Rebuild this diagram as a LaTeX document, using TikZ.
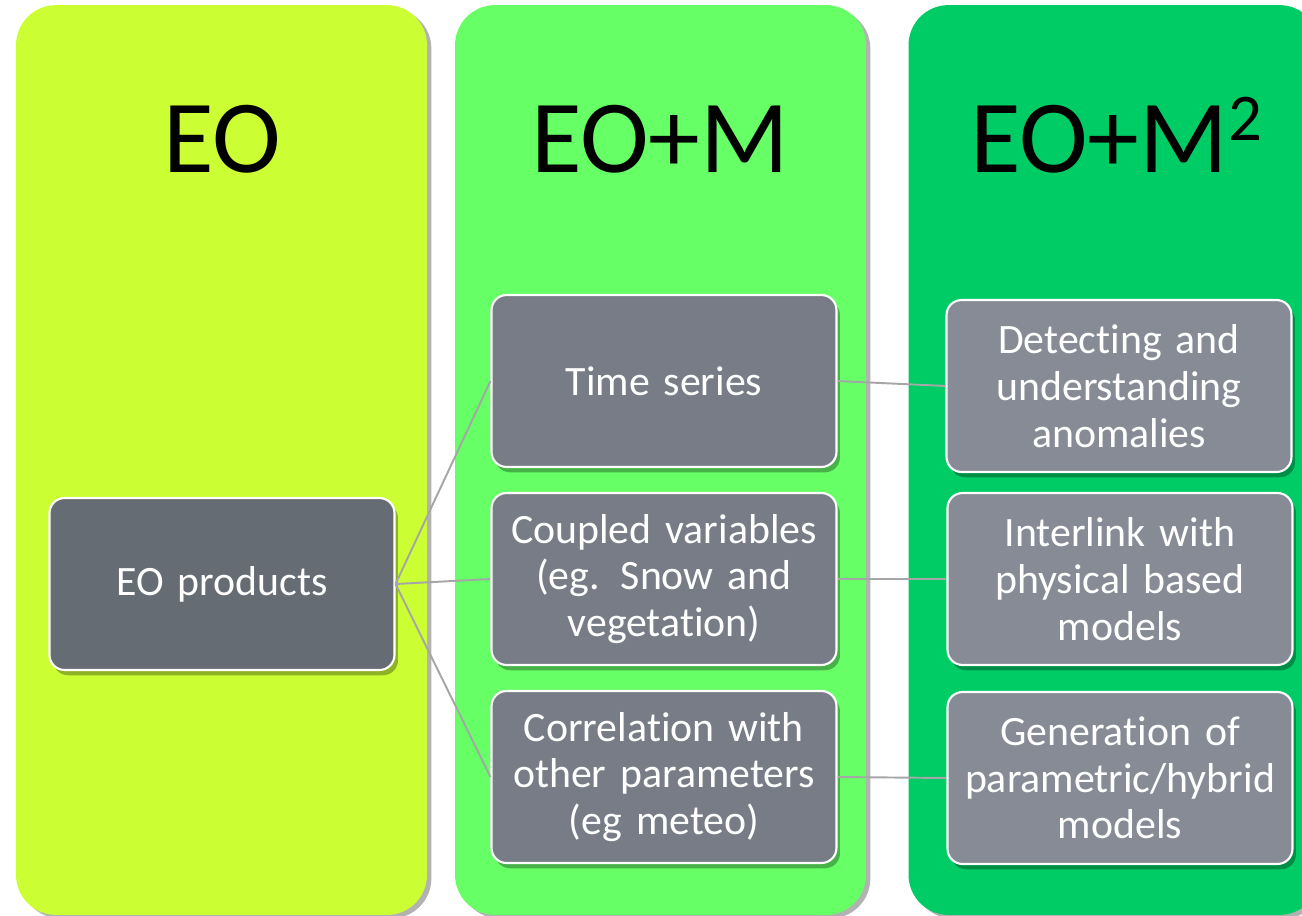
\documentclass[tikz,border=0pt]{standalone}
\usepackage{fontspec}
\setmainfont{Carlito}[Ligatures=NoCommon]
\usetikzlibrary{shadows}

\begin{document}
\begin{tikzpicture}[
    x=0.02cm,
    y=-0.02cm,
    column/.style={
        rounded corners=0.8cm,
        minimum width=8.22cm,
        minimum height=18.2cm,
        inner sep=0pt,
        drop shadow={shadow xshift=2.5pt, shadow yshift=-2pt, fill=black, opacity=0.3}
    },
    coltitle/.style={
        font=\fontsize{59}{60}\selectfont,
        anchor=base
    },
    itembox/.style={
        draw=white,
        line width=1.2pt,
        rounded corners=0.3cm,
        text=white,
        align=center,
        minimum width=6.9cm,
        minimum height=3.44cm,
        text width=6.8cm,
        inner sep=0pt,
        font=\fontsize{23.8}{26.6}\selectfont,
        drop shadow={shadow xshift=2pt, shadow yshift=-3pt, fill=black, opacity=0.3}
    },
    link/.style={
        draw=linkgray,
        line width=1.1pt
    }
]

% Define colors
\definecolor{eogreen}{HTML}{CCFF33}
\definecolor{eomgreen}{HTML}{66FF66}
\definecolor{eomsqgreen}{HTML}{00CC66}
\definecolor{darkgray}{HTML}{666C74}
\definecolor{midgray}{HTML}{777C86}
\definecolor{lightgray}{HTML}{868B95}
\definecolor{linkgray}{HTML}{A6A6A6}

\useasboundingbox (0,0) rectangle (1302,916);

% ============ COLUMNS ============
\node[column, fill=eogreen] (eocol) at (221.5, 460) {};
\node[column, fill=eomgreen] (eomcol) at (660.5, 460) {};
\node[column, fill=eomsqgreen] (eomsqcol) at (1114, 460) {};

% Column titles
\node[coltitle] (eotitle) at (222, 172) {EO};
\node[coltitle] (eomtitle) at (660, 172) {EO+M};
% raised 2, bigger than \textsuperscript
\node[coltitle] (eomsqtitle) at (1116, 172) {EO+M\raisebox{18pt}{\fontsize{38}{38}\selectfont 2}};

% ============ BOXES ============
\node[itembox, fill=darkgray] (eoprod) at (222, 584) {EO products};

\node[itembox, fill=midgray] (timeser) at (664, 381) {Time series};
\node[itembox, fill=midgray] (coupled) at (664, 579) {Coupled variables\\(eg. Snow and\\vegetation)};
\node[itembox, fill=midgray] (correl) at (664, 777) {Correlation with\\other parameters\\(eg meteo)};

\node[itembox, fill=lightgray] (anomal) at (1119, 386) {Detecting and\\understanding\\anomalies};
\node[itembox, fill=lightgray] (interlink) at (1120, 579) {Interlink with\\physical based\\models};
\node[itembox, fill=lightgray] (hybrid) at (1120, 778) {Generation of\\parametric/hybrid\\models};

% ============ LINKS ============
\draw[link] (eoprod.east) -- (timeser.west);
\draw[link] (eoprod.east) -- (coupled.west);
\draw[link] (eoprod.east) -- (correl.west);

\draw[link] (timeser.east) -- (anomal.west);
\draw[link] (coupled.east) -- (interlink.west);
\draw[link] (correl.east) -- (hybrid.west);

\end{tikzpicture}
\end{document}
